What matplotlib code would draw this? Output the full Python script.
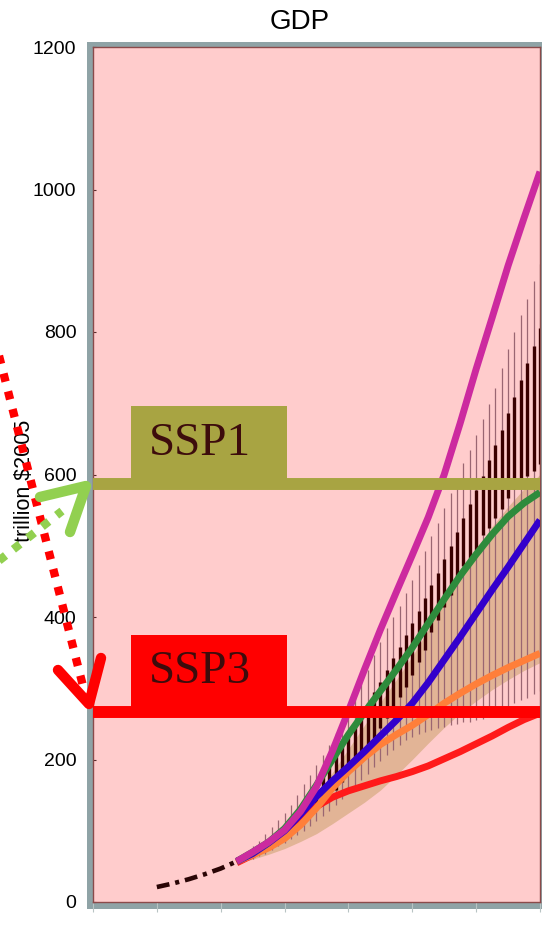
import matplotlib.pyplot as plt
from matplotlib.patches import Rectangle
import numpy as np

# historical GDP (trillion $2005)
hist_years = [1980, 1985, 1990, 1995, 2000, 2005]
hist_gdp = [21, 26, 32, 39, 47, 57]

# SSP scenario lines
ssp_years = list(range(2005, 2101, 5))
ssp5 = [57, 70, 84, 101, 127, 162, 212, 268, 326, 382, 435, 487, 540, 600, 672,
        748, 820, 893, 960, 1025]
ssp2 = [57, 70, 84, 103, 130, 164, 200, 235, 266, 296, 326, 357, 391, 425, 458,
        488, 516, 541, 560, 575]
ssp4 = [57, 68, 83, 100, 123, 148, 170, 190, 211, 233, 255, 279, 308, 340, 372,
        405, 438, 470, 503, 536]
ssp1_low = [57, 66, 76, 89, 108, 132, 160, 183, 203, 221, 235, 248, 263, 279, 293,
            306, 318, 329, 339, 349]
ssp3 = [55, 66, 79, 94, 114, 134, 147, 156, 163, 170, 176, 183, 191, 201, 211,
        222, 233, 245, 256, 265]

# shaded range
band_low = [55, 60, 67, 75, 85, 96, 110, 125, 140, 157, 178, 200, 223, 245, 265,
            282, 298, 312, 325, 336]
band_high = [58, 70, 84, 100, 123, 150, 182, 215, 248, 280, 312, 345, 382, 420, 458,
             495, 527, 555, 580, 600]

# literature range, every two years
box_years = list(range(2010, 2101, 2))
box_max = [78, 86, 95, 105, 115, 125, 136, 150, 165, 178, 192, 206, 220, 237, 251, 269,
           288, 307, 326, 347, 365, 384, 400, 416, 433, 452, 473, 492, 513, 532, 553,
           574, 592, 616, 635, 656, 678, 699, 722, 749, 776, 800, 824, 847, 871, 895]
box_q3 = [72, 78, 85, 92, 100, 108, 117, 127, 138, 150, 162, 176, 190, 206, 220, 234,
          248, 265, 279, 295, 309, 326, 342, 358, 375, 391, 408, 427, 445, 462, 481,
          500, 520, 539, 558, 578, 598, 620, 642, 663, 686, 709, 733, 756, 780, 805]
box_q1 = [66, 70, 75, 80, 86, 92, 99, 106, 114, 123, 132, 141, 150, 157, 169, 181,
          190, 204, 218, 230, 244, 258, 274, 288, 302, 319, 337, 354, 379, 396, 414,
          431, 450, 471, 483, 494, 515, 525, 539, 552, 567, 580, 590, 598, 605, 615]
box_min = [60, 64, 68, 73, 78, 83, 88, 94, 100, 107, 114, 121, 128, 136, 145, 153,
           162, 171, 180, 189, 198, 206, 214, 221, 227, 232, 236, 239, 242, 244, 246,
           248, 250, 252, 253, 255, 257, 260, 264, 269, 274, 279, 283, 287, 292, 296]

# marked levels
ssp1_level = 587
ssp3_level = 267

W, H = 542, 943
fig = plt.figure(figsize=(W / 100, H / 100), dpi=100)

# grey frame behind the plot
frame = fig.add_axes([87 / W, 1 - 909 / H, 1.0, (909 - 42) / H])
frame.set_facecolor('#8fa3a6')
frame.set_xticks([])
frame.set_yticks([])
for s in frame.spines.values():
    s.set_visible(False)

ax = fig.add_axes([93 / W, 1 - 902 / H, (540 - 93) / W, 855 / H])
ax.set_facecolor('#ffcccc')
ax.set_xlim(1960, 2100)
ax.set_ylim(0, 1200)

ax.fill_between(ssp_years, band_low, band_high, color='#e2b496', lw=0, zorder=1)
ax.vlines(box_years, box_min, box_max, color='#9a6672', lw=0.9, zorder=2)
ax.vlines(box_years, box_q1, box_q3, color='#3a0000', lw=2.4, zorder=3)

ax.plot(hist_years, hist_gdp, color='#2a0505', lw=3.3,
        linestyle=(0, (2.8, 1.3, 0.9, 1.3)), zorder=4)
line_kw = dict(lw=5, solid_capstyle='butt', solid_joinstyle='round')
ax.plot(ssp_years, ssp3, color='#ff1a1a', zorder=5, **line_kw)
ax.plot(ssp_years, ssp1_low, color='#ff7f3a', zorder=5, **line_kw)
ax.plot(ssp_years, ssp4, color='#3300cc', zorder=6, **line_kw)
ax.plot(ssp_years, ssp2, color='#2e8b3c', zorder=7, **line_kw)
ax.plot(ssp_years, ssp5, color='#cc2a9f', zorder=8, **line_kw)

ax.axhline(ssp1_level, color='#a8a442', lw=8.6, zorder=9)
ax.axhline(ssp3_level, color='#ff0000', lw=8.6, zorder=9)

ax.set_yticks(np.arange(0, 1201, 200))
ax.set_xticks(np.arange(1960, 2101, 20))
ax.set_xticklabels([])
ax.tick_params(axis='y', direction='in', length=2, color='#5a2a2a', pad=12,
               labelsize=14, labelfontfamily='Liberation Sans')
ax.tick_params(axis='x', direction='out', length=7, color='#b8c4c4')
for s in ax.spines.values():
    s.set_color('#8b4a4a')
    s.set_linewidth(1.0)

fig.text(300 / W, 1 - 22 / H, 'GDP', ha='center', va='center',
         fontsize=20, family='Liberation Sans')
fig.text(25 / W, 1 - 481 / H, 'trillion $2005', ha='center', va='center',
         rotation=90, fontsize=15.5, family='Liberation Sans')

# annotation layer in pixel units
ov = fig.add_axes([0, 0, 1, 1], zorder=10)
ov.set_xlim(0, W)
ov.set_ylim(H, 0)
ov.axis('off')
ov.patch.set_alpha(0)

ov.add_patch(Rectangle((131, 406), 156, 74, color='#a8a442', lw=0))
ov.text(200, 444, 'SSP1', ha='center', va='center', fontsize=34,
        family='Liberation Serif', color='#3d0c0c')
ov.add_patch(Rectangle((131, 635), 156, 74, color='#ff0000', lw=0))
ov.text(200, 672, 'SSP3', ha='center', va='center', fontsize=34,
        family='Liberation Serif', color='#3d0c0c')

# red dotted arrow
ov.plot([-4, 84], [344, 690], color='#ff0000', lw=6, linestyle=(0, (1, 1.2)),
        dash_capstyle='butt')
ov.plot([58, 89, 101], [670, 704, 658], color='#ff0000', lw=7.5,
        solid_capstyle='round', solid_joinstyle='round')

# green dotted arrow
ov.plot([-4, 62], [563, 511], color='#92d050', lw=6, linestyle=(0, (1, 1.2)),
        dash_capstyle='butt')
ov.plot([40, 86, 70], [497, 486, 532], color='#92d050', lw=7.5,
        solid_capstyle='round', solid_joinstyle='round')

fig.savefig('out.png', dpi=100)
